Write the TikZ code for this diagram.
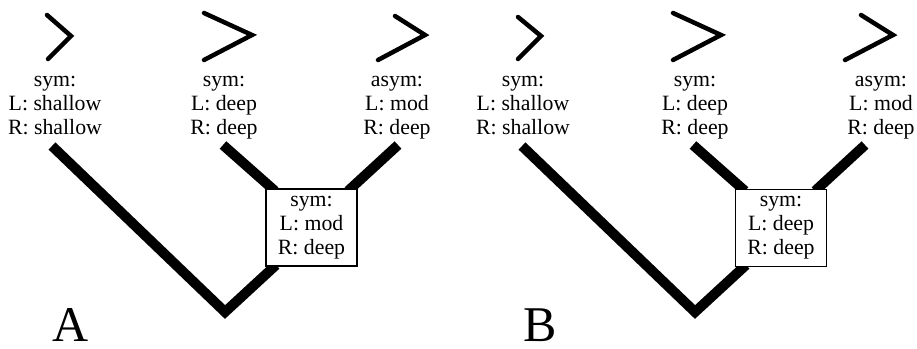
\documentclass[tikz,border=0pt]{standalone}
\usepackage{fontspec}
\setmainfont{Liberation Serif}
\begin{document}
\begin{tikzpicture}[x=1pt,y=-1pt,
  lbl/.style={anchor=base,inner sep=0pt,font=\fontsize{21.8}{24}\selectfont},
  chev/.style={line width=4.5pt,line cap=round,line join=miter},
  branch/.style={line width=10pt,line join=miter,miter limit=4},
  stembox/.style={draw,line width=1.4pt,fill=white,minimum width=91pt,minimum height=77pt,inner sep=0pt},
  panel/.style={anchor=base,inner sep=0pt,text depth=0pt,font=\fontsize{50}{50}\selectfont}]
\useasboundingbox (0,0) rectangle (917,348);
\newcommand\threelines[6]{%
  \node[lbl] (#1a) at (#2,#3) {#4};
  \node[lbl] (#1b) at (#2,#3+24) {#5};
  \node[lbl] (#1c) at (#2,#3+48) {#6};}
% ---------- Panel A ----------
\coordinate (sA1) at (52,146);
\coordinate (vA) at (225,312);
\coordinate (eA1) at (276,265);
\coordinate (sA2) at (223,145);
\coordinate (eA2) at (275,191);
\coordinate (sA3) at (398,145);
\coordinate (eA3) at (348,191);
\draw[branch] (sA1) -- (vA) -- (eA1);
\draw[branch] (sA2) -- (eA2);
\draw[branch] (sA3) -- (eA3);
\node[stembox] (boxA) at (311.5,227.5) {};
\threelines{mA}{311.5}{206}{sym:}{L: mod}{R: deep}
\draw[chev] (47,15) -- (71,36) -- (48,59);
\draw[chev] (204,13) -- (252,35) -- (204,60);
\draw[chev] (395,16) -- (425,35) -- (378,60);
\threelines{aA}{55}{86}{sym:}{L: shallow}{R: shallow}
\threelines{bA}{224}{86}{sym:}{L: deep}{R: deep}
\threelines{cA}{397}{86}{asym:}{L: mod}{R: deep}
\node[panel] (labA) at (71,341) {A};
% ---------- Panel B ----------
\coordinate (sB1) at (522,146);
\coordinate (vB) at (695,312);
\coordinate (eB1) at (746,265);
\coordinate (sB2) at (693,145);
\coordinate (eB2) at (745,191);
\coordinate (sB3) at (865,145);
\coordinate (eB3) at (815,191);
\draw[branch] (sB1) -- (vB) -- (eB1);
\draw[branch] (sB2) -- (eB2);
\draw[branch] (sB3) -- (eB3);
\node[stembox] (boxB) at (781,228) {};
\threelines{mB}{781}{206}{sym:}{L: deep}{R: deep}
\draw[chev] (518,17) -- (541,36) -- (518,59);
\draw[chev] (673,13) -- (721,35) -- (673,60);
\draw[chev] (861,15) -- (893,35) -- (845,60);
\threelines{aB}{523}{86}{sym:}{L: shallow}{R: shallow}
\threelines{bB}{695}{86}{sym:}{L: deep}{R: deep}
\threelines{cB}{881}{86}{asym:}{L: mod}{R: deep}
\node[panel] (labB) at (540,341) {B};
\end{tikzpicture}
\end{document}
